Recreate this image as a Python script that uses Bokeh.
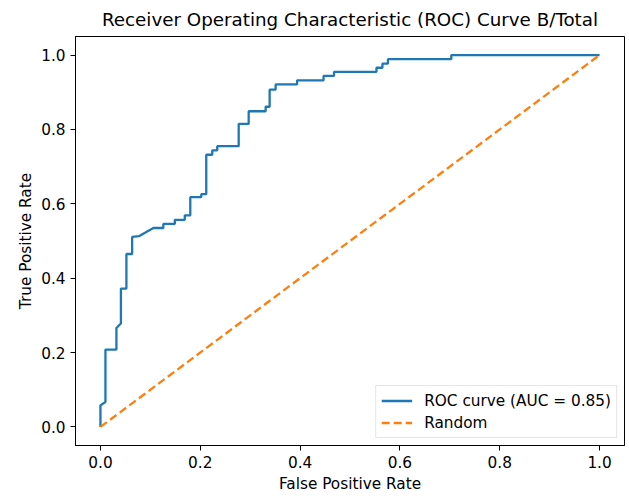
from bokeh.plotting import figure
from bokeh.models import Range1d, FixedTicker, Legend, LegendItem
from bokeh.embed import file_html
from bokeh.resources import INLINE

# ROC curve points
fpr = [0.0, 0.0, 0.010, 0.010, 0.032, 0.032, 0.041, 0.041, 0.052, 0.052,
       0.0635, 0.0635, 0.077, 0.106, 0.126, 0.126, 0.149, 0.149, 0.169, 0.169,
       0.180, 0.180, 0.202, 0.202, 0.212, 0.212, 0.224, 0.224, 0.234, 0.234,
       0.277, 0.277, 0.297, 0.297, 0.331, 0.331, 0.339, 0.339, 0.351, 0.351,
       0.394, 0.394, 0.447, 0.447, 0.468, 0.468, 0.553, 0.553, 0.565, 0.565,
       0.576, 0.576, 0.703, 0.703, 1.0]
tpr = [0.0, 0.058, 0.067, 0.208, 0.208, 0.266, 0.278, 0.372, 0.372, 0.465,
       0.465, 0.511, 0.513, 0.535, 0.535, 0.546, 0.546, 0.557, 0.557, 0.569,
       0.569, 0.618, 0.618, 0.626, 0.626, 0.732, 0.732, 0.744, 0.744, 0.755,
       0.755, 0.815, 0.815, 0.849, 0.849, 0.861, 0.861, 0.907, 0.907, 0.921,
       0.921, 0.932, 0.932, 0.944, 0.944, 0.955, 0.955, 0.966, 0.966, 0.977,
       0.977, 0.989, 0.989, 1.0, 1.0]

random_x = [0.0, 1.0]
random_y = [0.0, 1.0]

ticks = [0.0, 0.2, 0.4, 0.6, 0.8, 1.0]
tick_labels = ["0.0", "0.2", "0.4", "0.6", "0.8", "1.0"]

title_text = "Receiver Operating Characteristic (ROC) Curve B/Total"
x_label = "False Positive Rate"
y_label = "True Positive Rate"
roc_label = "ROC curve (AUC = 0.85)"
random_label = "Random"

FONT = "DejaVu Sans"
FS = "15.3px"

p = figure(frame_width=549, frame_height=409,
           x_range=Range1d(-0.05, 1.05), y_range=Range1d(-0.05, 1.05),
           output_backend="svg", toolbar_location=None,
           min_border_left=75, min_border_right=5,
           min_border_top=36, min_border_bottom=52,
           background_fill_color="white", border_fill_color="white")

p.title.text = title_text
p.title.text_font = FONT
p.title.text_font_size = "18.3px"
p.title.text_font_style = "normal"
p.title.text_color = "#000000"
p.title.align = "center"
p.title.standoff = 13

p.grid.visible = False
p.outline_line_color = "#000000"
p.outline_line_width = 1
p.outline_line_alpha = 1.0

for ax, lab, stand in ((p.xaxis[0], x_label, 4), (p.yaxis[0], y_label, 3)):
    ax.ticker = FixedTicker(ticks=ticks)
    ax.major_label_overrides = {t: l for t, l in zip(ticks, tick_labels)}
    ax.minor_tick_line_color = None
    ax.major_tick_out = 5
    ax.major_tick_in = 0
    ax.major_tick_line_color = "#000000"
    ax.axis_line_color = "#000000"
    ax.major_label_text_font = FONT
    ax.major_label_text_font_size = FS
    ax.major_label_text_color = "#000000"
    ax.major_label_standoff = 5
    ax.axis_label = lab
    ax.axis_label_text_font = FONT
    ax.axis_label_text_font_size = FS
    ax.axis_label_text_font_style = "normal"
    ax.axis_label_text_color = "#000000"
    ax.axis_label_standoff = stand

r1 = p.line(fpr, tpr, line_color="#1f77b4", line_width=2.3)
r2 = p.line(random_x, random_y, line_color="#ff7f0e", line_width=2.3,
            line_dash="8 4")

legend = Legend(items=[LegendItem(label=roc_label, renderers=[r1]),
                       LegendItem(label=random_label, renderers=[r2])],
                location="bottom_right")
legend.label_text_font = FONT
legend.label_text_font_size = FS
legend.label_text_color = "#000000"
legend.glyph_width = 31
legend.glyph_height = 19
legend.label_height = 19
legend.spacing = 3
legend.padding = 5
legend.margin = 7
legend.label_standoff = 12
legend.border_line_color = "#cccccc"
legend.border_line_width = 1
legend.background_fill_alpha = 0.8
p.add_layout(legend)

open("out.html", "w").write(file_html(p, INLINE))
